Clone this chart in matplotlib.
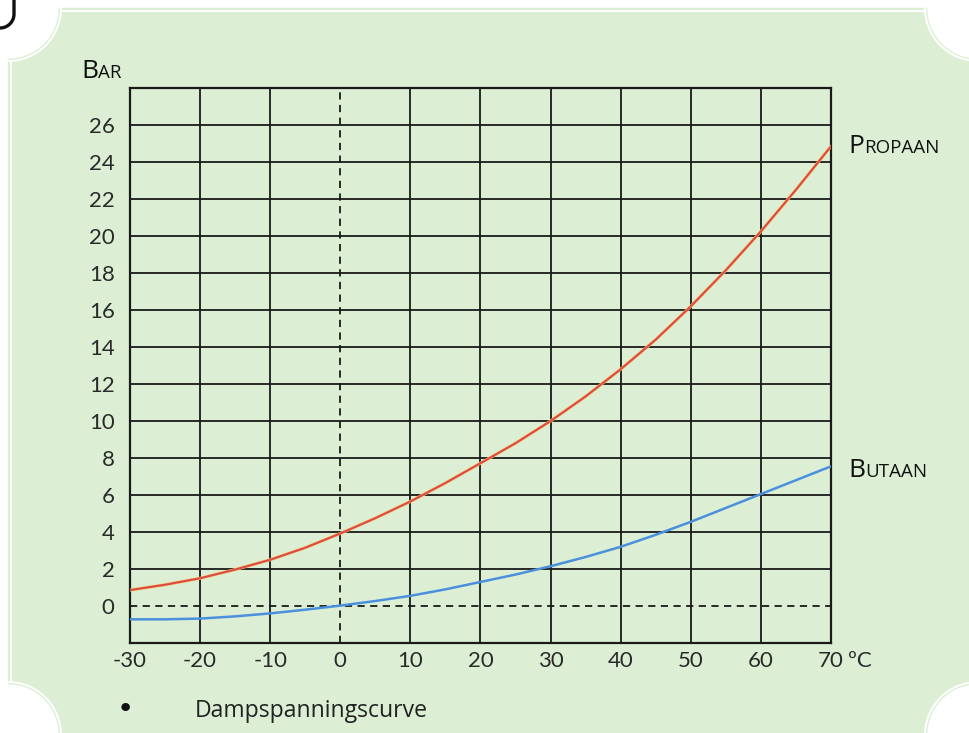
import numpy as np
import matplotlib
matplotlib.use('Agg')
import matplotlib.pyplot as plt
from matplotlib.patches import Rectangle, Arc, Ellipse
from matplotlib.lines import Line2D

# data (bar overpressure vs temperature)
temps = [-30, -25, -20, -15, -10, -5, 0, 5, 10, 15, 20, 25, 30, 35, 40, 45, 50, 55, 60, 65, 70]
propaan = [0.86, 1.15, 1.5, 1.97, 2.5, 3.15, 3.92, 4.75, 5.65, 6.65, 7.72, 8.8, 10.0, 11.33,
           12.8, 14.4, 16.2, 18.15, 20.25, 22.5, 24.85]
butaan = [-0.72, -0.72, -0.68, -0.56, -0.4, -0.2, 0.02, 0.27, 0.55, 0.9, 1.3, 1.7, 2.15,
          2.65, 3.2, 3.85, 4.55, 5.3, 6.05, 6.8, 7.55]
xticks = [-30, -20, -10, 0, 10, 20, 30, 40, 50, 60, 70]
yticks = [0, 2, 4, 6, 8, 10, 12, 14, 16, 18, 20, 22, 24, 26]

W, H = 969, 733
GREEN = '#dcefd5'

fig = plt.figure(figsize=(W / 100, H / 100), dpi=100, facecolor='white')


def px(x, y):
    # pixel position (top-left origin) -> figure fraction
    return x / W, 1 - y / H


# panel background with cut corners
tf = fig.transFigure
x0, y0 = px(8, 735)
x1, y1 = px(978, 8)
fig.patches.append(Rectangle((x0, y0), x1 - x0, y1 - y0, transform=tf, color=GREEN, zorder=-3))
for cx, cy in [(8, 8), (978, 8), (8, 735), (978, 735)]:
    fig.patches.append(Ellipse(px(cx, cy), 100 / W, 100 / H, transform=tf, color='white', zorder=-2))
    fig.patches.append(Arc(px(cx, cy), 106 / W, 106 / H, transform=tf, color='white', lw=1.4, zorder=-1))
# inner white rim lines
fig.lines.append(Line2D([61 / W, 925 / W], [1 - 11 / H] * 2, transform=tf, color='white', lw=1.4, zorder=-1))
fig.lines.append(Line2D([11 / W] * 2, [1 - 61 / H, 1 - 682 / H], transform=tf, color='white', lw=1.4, zorder=-1))

# remains of a big letter in the top-left corner
t = np.linspace(0, np.pi / 2, 30)
gx = list(np.full(5, 14.0)) + list(14 * np.cos(t))
gy = list(np.linspace(-2, 14, 5)) + list(14 + 14 * np.sin(t))
fig.lines.append(Line2D([v / W for v in gx], [1 - v / H for v in gy], transform=tf,
                        color='#111111', lw=2.4, zorder=-1))

# chart
l, b = px(130, 643)
r, tp = px(831, 88)
ax = fig.add_axes([l, b, r - l, tp - b])
ax.set_zorder(5)
ax.set_facecolor(GREEN)
ax.set_xlim(-30, 70)
ax.set_ylim(-2, 28)
ax.set_xticks(xticks)
ax.set_yticks(yticks)
ax.set_xticklabels([str(v) for v in xticks])
ax.set_yticklabels([str(v) for v in yticks])
ax.tick_params(length=0, labelsize=16, colors='#2a2a2a')
ax.tick_params(axis='y', pad=11)
ax.tick_params(axis='x', pad=6)
for lab in ax.get_xticklabels() + ax.get_yticklabels():
    lab.set_fontfamily('Lato')
for s in ax.spines.values():
    s.set_linewidth(1.6)
    s.set_color('#1a1a1a')
ax.grid(True, color='#1a1a1a', lw=1.3)
ax.set_axisbelow(True)
ax.get_ygridlines()[yticks.index(0)].set_linestyle((0, (4, 3)))
ax.get_xgridlines()[xticks.index(0)].set_linestyle((0, (4, 3)))

ax.plot(temps, propaan, color='#eec84a', lw=2.2, solid_capstyle='round', zorder=3)
ax.plot(temps, propaan, color='#e0484e', lw=1.5, zorder=4)
ax.plot(temps, butaan, color='#4a90dc', lw=1.8, zorder=4)

fig.text(*px(848, 661), 'ºC', fontsize=16, family='Lato', color='#2a2a2a',
         va='center', ha='left')

renderer = fig.canvas.get_renderer()


def small_caps(x, y, word, big=19, small=13.5):
    first = fig.text(*px(x, y), word[0], fontsize=big, family='Open Sans', color='#111111', va='baseline')
    bb = first.get_window_extent(renderer)
    fig.text(bb.x1 / W + 0.5 / W, 1 - y / H, word[1:], fontsize=small, family='Open Sans',
             color='#111111', va='baseline')


small_caps(81, 78, 'BAR')
small_caps(848, 153, 'PROPAAN')
small_caps(848, 477, 'BUTAAN')

fig.text(*px(125, 709), '•', fontsize=21, family='DejaVu Sans', color='#111111', va='center', ha='center')
fig.text(*px(195, 717), 'Dampspanningscurve', fontsize=16.6, family='Open Sans', color='#222222', va='baseline')

fig.savefig('out.png', dpi=100, facecolor='white')
